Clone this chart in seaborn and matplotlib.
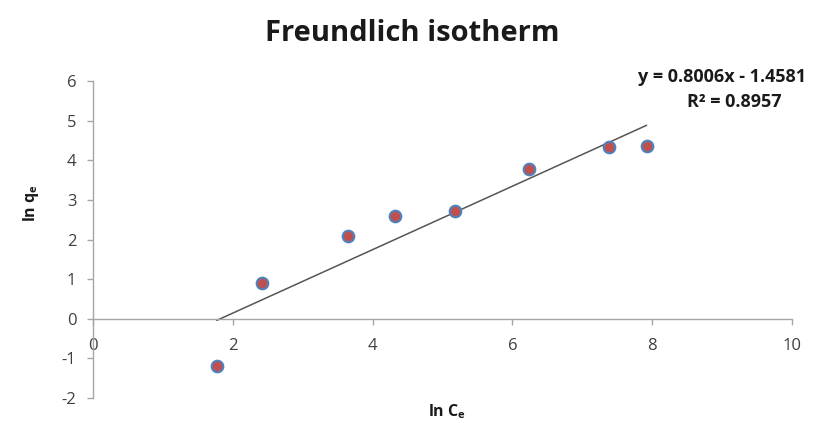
import numpy as np
import pandas as pd
import matplotlib
matplotlib.use("Agg")
import matplotlib.pyplot as plt
import seaborn as sns

# Data
ln_ce = [1.77, 2.42, 3.65, 4.32, 5.18, 6.24, 7.38, 7.92]
ln_qe = [-1.20, 0.90, 2.10, 2.60, 2.72, 3.78, 4.33, 4.35]
slope = 0.8006
intercept = -1.4581
r_squared = 0.8957
x_ticks = [0, 2, 4, 6, 8, 10]
y_ticks = [-2, -1, 0, 1, 2, 3, 4, 5, 6]

sns.set_theme(style="white")
plt.rcParams["font.family"] = ["Open Sans", "DejaVu Sans"]
plt.rcParams["axes.unicode_minus"] = False
plt.rcParams["mathtext.fontset"] = "custom"
plt.rcParams["mathtext.rm"] = "Open Sans"
plt.rcParams["mathtext.bf"] = "Open Sans:bold"

df = pd.DataFrame({"x": ln_ce, "y": ln_qe})
x_fit = np.array([min(ln_ce), max(ln_ce)])
fit = pd.DataFrame({"x": x_fit, "y": slope * x_fit + intercept})

fig = plt.figure(figsize=(8.24, 4.23), dpi=100)
ax = fig.add_axes([0.1129, 0.0591, 0.8483, 0.7494])

sns.lineplot(data=fit, x="x", y="y", ax=ax, color="#555555", linewidth=1.1)
sns.scatterplot(data=df, x="x", y="y", ax=ax, s=70, color="#c0504d",
                edgecolor="#4f81bd", linewidth=1.5, zorder=3)

ax.set_xlim(0, 10)
ax.set_ylim(-2, 6)
ax.set_xticks(x_ticks)
ax.set_yticks(y_ticks)

for side in ["top", "right"]:
    ax.spines[side].set_visible(False)
ax.spines["bottom"].set_position(("data", 0))
for side in ["bottom", "left"]:
    ax.spines[side].set_color("#a6a6a6")
    ax.spines[side].set_linewidth(1)

ax.tick_params(axis="x", direction="out", length=4, width=1, color="#a6a6a6",
               pad=10, labelsize=12, labelcolor="#404040", bottom=True)
ax.tick_params(axis="y", direction="out", length=4, width=1, color="#a6a6a6",
               pad=8, labelsize=12, labelcolor="#404040", left=True)

ax.set_xlabel("")
ax.set_ylabel("")
fig.text(0.543, 0.028, r"ln C$_\mathbf{e}$", ha="center", va="center",
         fontsize=11.5, fontweight="bold", color="#1a1a1a")
fig.text(0.038, 0.52, r"ln q$_\mathbf{e}$", ha="center", va="center",
         rotation=90, fontsize=11.5, fontweight="bold", color="#1a1a1a")

fig.text(0.5, 0.92, "Freundlich isotherm", ha="center", va="center",
         fontsize=21, fontweight="bold", color="#1a1a1a")

fig.text(0.876, 0.818, f"y = {slope:.4f}x - {abs(intercept):.4f}",
         ha="center", va="center", fontsize=13, fontweight="bold", color="#1a1a1a")
fig.text(0.891, 0.76, f"R² = {r_squared:.4f}",
         ha="center", va="center", fontsize=13, fontweight="bold", color="#1a1a1a")

fig.savefig("out.png", dpi=100)
